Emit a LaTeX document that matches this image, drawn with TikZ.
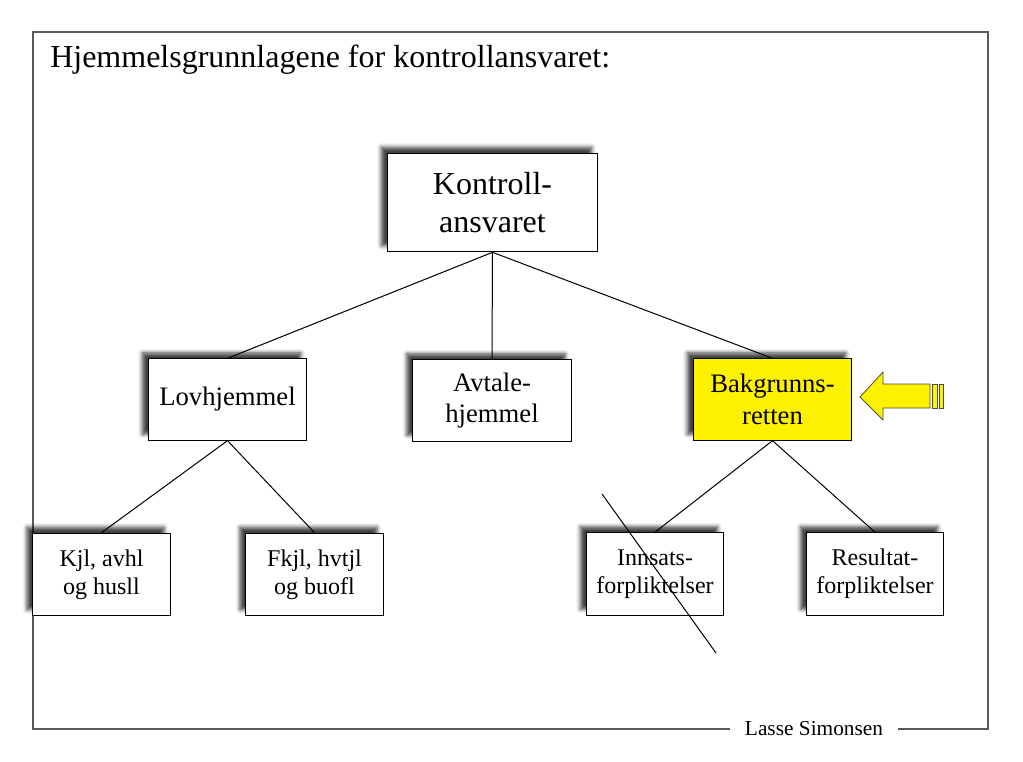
\documentclass[tikz,border=0pt]{standalone}
\usepackage{fontspec}
\setmainfont{Liberation Serif}
\usetikzlibrary{shadows.blur}

\tikzset{
  box/.style={draw=black, line width=0.75pt, fill=white, align=center, inner sep=0pt,
    blur shadow={shadow xshift=-4.5pt, shadow yshift=4.5pt, shadow blur radius=3pt, shadow opacity=75}},
  topbox/.style={box, minimum width=158pt, minimum height=74pt, font=\fontsize{24}{28.5}\selectfont},
  midbox/.style={box, minimum width=119pt, minimum height=61pt, font=\fontsize{20}{23.5}\selectfont},
  lowbox/.style={box, minimum width=103pt, minimum height=62pt, font=\fontsize{18}{21}\selectfont},
  link/.style={line width=0.75pt}
}

\begin{document}
\begin{tikzpicture}[x=0.75pt, y=-0.75pt]
    % Fix the page to the size of the slide
    \useasboundingbox (0,0) rectangle (1023,762);

    % Frame round the slide, with the author in the bottom line
    \coordinate (TL) at (33,32);
    \coordinate (BR) at (988,729);
    \draw[black!65, line width=0.9pt] (TL) rectangle (BR);
    \node[fill=white, inner xsep=11pt, font=\fontsize{16}{19}\selectfont] (author) at (814,729) {Lasse Simonsen};

    % Title
    \node[anchor=base west, inner sep=0pt, font=\fontsize{24}{28}\selectfont] (title) at (50,68) {Hjemmelsgrunnlagene for kontrollansvaret:};

    % Top box
    \node[topbox] (kontroll) at (492.5,202.5) {Kontroll-\\ansvaret};

    % Middle row
    \node[midbox] (lov) at (227.5,399.5) {Lovhjemmel};
    \node[midbox] (avtale) at (492,400.5) {Avtale-\\hjemmel};
    \node[midbox, fill=yellow] (bakgrunn) at (772.5,399.5) {Bakgrunns-\\retten};

    % Bottom row
    \node[lowbox] (kjl) at (101.5,574.5) {Kjl, avhl\\og husll};
    \node[lowbox] (fkjl) at (314.5,574.5) {Fkjl, hvtjl\\og buofl};
    \node[lowbox] (innsats) at (655,574) {Innsats-\\forpliktelser};
    \node[lowbox] (resultat) at (875,574) {Resultat-\\forpliktelser};

    % Connectors
    \draw[link] (kontroll.south) -- (lov.north);
    \draw[link] (kontroll.south) -- (avtale.north);
    \draw[link] (kontroll.south) -- (bakgrunn.north);
    \draw[link] (lov.south) -- (kjl.north);
    \draw[link] (lov.south) -- (fkjl.north);
    \draw[link] (bakgrunn.south) -- (innsats.north);
    \draw[link] (bakgrunn.south) -- (resultat.north);

    % Line crossing out Innsats-forpliktelser
    \coordinate (crossA) at (602,494);
    \coordinate (crossB) at (716,653);
    \draw[link] (crossA) -- (crossB);

    % Yellow arrow pointing at Bakgrunnsretten
    \draw[fill=yellow, draw=black!80!yellow, line width=0.6pt]
        (860,397) -- (883,372) -- (883,384) -- (930,384) -- (930,408) -- (883,408) -- (883,420) -- cycle;
    \draw[fill=yellow, draw=black!80!yellow, line width=0.6pt] (932,384) rectangle (937,408);
    \draw[fill=yellow, draw=black!80!yellow, line width=0.6pt] (939,384) rectangle (943,408);

\end{tikzpicture}
\end{document}
